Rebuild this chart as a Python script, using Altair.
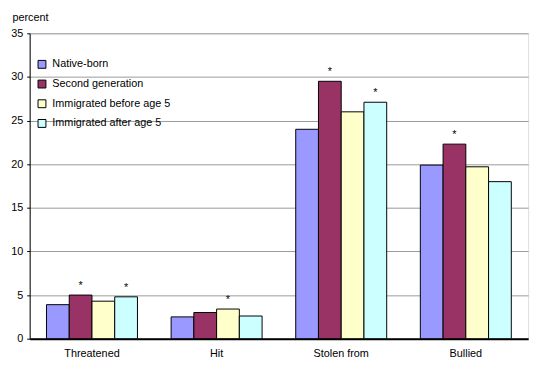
import altair as alt
import pandas as pd

categories = ["Threatened", "Hit", "Stolen from", "Bullied"]
groups = ["Native-born", "Second generation", "Immigrated before age 5", "Immigrated after age 5"]
colors = ["#9999FF", "#993366", "#FFFFCC", "#CCFFFF"]
native = [3.9, 2.5, 24.0, 19.9]
second = [5.0, 3.0, 29.5, 22.3]
before5 = [4.3, 3.4, 26.0, 19.7]
after5 = [4.8, 2.6, 27.1, 18.0]
stars = [[False, True, False, True],
         [False, False, True, False],
         [False, True, False, True],
         [False, True, False, False]]

rows = []
for i, c in enumerate(categories):
    for j, (g, vals) in enumerate(zip(groups, [native, second, before5, after5])):
        rows.append({"category": c, "group": g, "value": vals[i],
                     "star": "*" if stars[i][j] else ""})
df = pd.DataFrame(rows)

FONT = "Liberation Sans"

x = alt.X("category:N", sort=categories, title=None,
          scale=alt.Scale(paddingInner=0.27, paddingOuter=0.135),
          axis=alt.Axis(labelAngle=0, ticks=False, domainColor="black", domainWidth=2,
                        labelFont=FONT, labelFontSize=11, labelColor="black", labelPadding=9))
xo = alt.XOffset("group:N", sort=groups, scale=alt.Scale(paddingInner=0))
y = alt.Y("value:Q", scale=alt.Scale(domain=[0, 35]),
          axis=alt.Axis(values=[0, 5, 10, 15, 20, 25, 30, 35], title="percent",
                        titleAngle=0, titleAlign="left", titleBaseline="alphabetic",
                        titleX=-18, titleY=-13, titleFont=FONT, titleFontSize=11,
                        titleFontWeight="normal", titleColor="black",
                        labelFont=FONT, labelFontSize=11, labelColor="black",
                        gridColor="#999999", gridWidth=1, domainColor="black",
                        tickColor="black", tickSize=3, labelPadding=4))

bars = alt.Chart(df).mark_bar(stroke="black", strokeWidth=1).encode(
    x=x, xOffset=xo, y=y,
    color=alt.Color("group:N", sort=groups,
                    scale=alt.Scale(domain=groups, range=colors),
                    legend=alt.Legend(title=None, orient="none", legendX=7, legendY=26,
                                      symbolType="square", symbolSize=64,
                                      symbolStrokeColor="black", symbolStrokeWidth=1,
                                      labelFont=FONT, labelFontSize=11, labelColor="black",
                                      rowPadding=7, labelOffset=5, symbolOpacity=1)))

text = alt.Chart(df).mark_text(dy=-4, baseline="bottom", font=FONT, fontSize=11,
                               color="black").encode(
    x=alt.X("category:N", sort=categories), xOffset=xo, y="value:Q",
    text="star:N")

chart = alt.layer(bars, text).properties(
    width=506, height=310,
    autosize=alt.AutoSizeParams(type="none"),
    padding={"left": 22, "top": 23, "right": 9, "bottom": 24},
).configure_view(stroke="black", strokeWidth=1).configure(background="white")

chart.save("out.html", embed_options={"renderer": "svg", "actions": False})
